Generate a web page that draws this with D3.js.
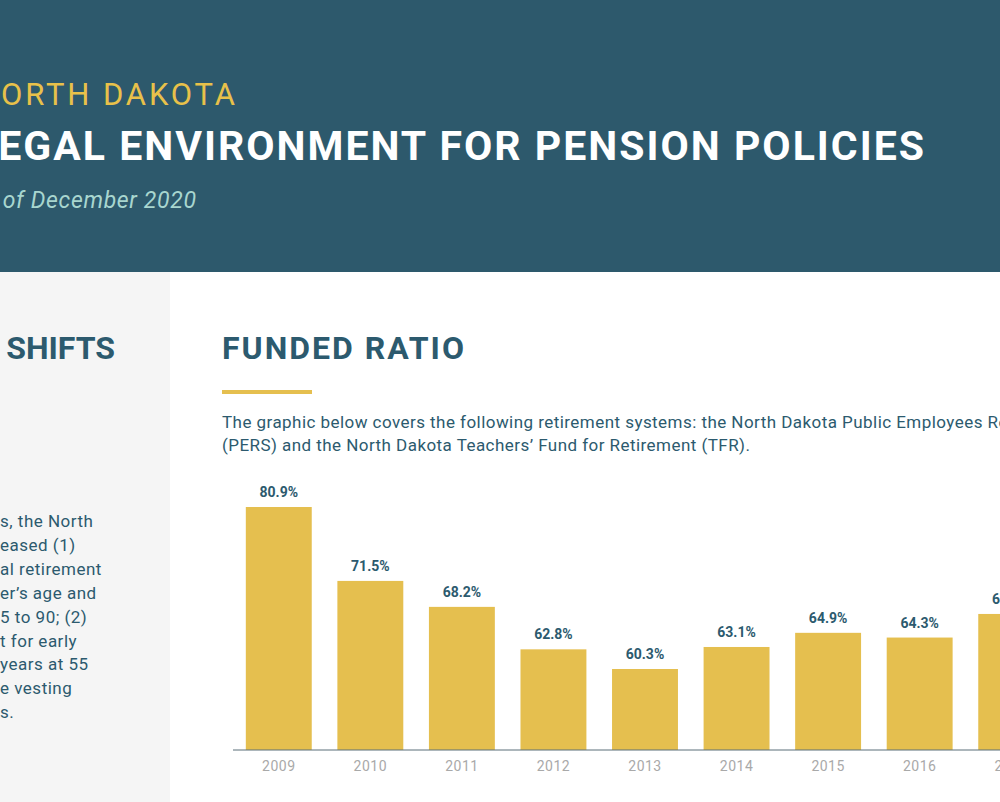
<!DOCTYPE html>
<html><head><meta charset="utf-8">
<script src="https://cdn.jsdelivr.net/npm/d3@7"></script>
<style>body{margin:0;overflow:hidden;background:#fff}svg{display:block;font-family:Roboto,"DejaVu Sans",sans-serif}</style>
</head><body><svg id="c" width="1000" height="802"></svg>
<script>
// chart data
var years = ['2009','2010','2011','2012','2013','2014','2015','2016','2017'];
var ratios = [80.9, 71.5, 68.2, 62.8, 60.3, 63.1, 64.9, 64.3, 67.3];
var sideLines = ['s, the North','eased (1)','al retirement','er\u2019s age and','5 to 90; (2)','t for early','years at 55','e vesting','s.'];

var svg = d3.select('#c');
var navy = '#2c5a6e', gold = '#e5bf4f';

// header band
svg.append('rect').attr('width',1000).attr('height',272).attr('fill','#2d596c');
svg.append('text').attr('x',-24).attr('y',105).attr('fill','#e8c14a').attr('font-size',31)
  .attr('textLength',259).text('NORTH DAKOTA');
svg.append('text').attr('x',-26).attr('y',160).attr('fill','#fff').attr('font-size',41).attr('font-weight',700)
  .attr('textLength',950).text('LEGAL ENVIRONMENT FOR PENSION POLICIES');
svg.append('text').attr('x',-31).attr('y',208).attr('fill','#a8d6cf').attr('font-size',23).attr('font-style','italic')
  .attr('textLength',227).text('As of December 2020');

// left panel
svg.append('rect').attr('y',272).attr('width',170).attr('height',530).attr('fill','#f5f5f5');
svg.append('text').attr('x',115).attr('y',359).attr('text-anchor','end').attr('fill',navy)
  .attr('font-size',32).attr('font-weight',700).text('SHIFTS');
svg.selectAll('text.side').data(sideLines).enter().append('text').attr('class','side')
  .attr('x',0).attr('y',(d,i)=>527+i*23.9).attr('fill',navy).attr('font-size',17)
  .attr('letter-spacing',0.5).text(d=>d);

// chart heading
svg.append('text').attr('x',222).attr('y',359).attr('fill',navy).attr('font-size',32).attr('font-weight',700)
  .attr('textLength',242).text('FUNDED RATIO');
svg.append('rect').attr('x',222).attr('y',390).attr('width',90).attr('height',4).attr('fill',gold);
svg.append('text').attr('x',222).attr('y',428).attr('fill',navy).attr('font-size',17).attr('letter-spacing',0.45)
  .text('The graphic below covers the following retirement systems: the North Dakota Public Employees Retirement System');
svg.append('text').attr('x',222).attr('y',451).attr('fill',navy).attr('font-size',17).attr('letter-spacing',0.45)
  .text('(PERS) and the North Dakota Teachers\u2019 Fund for Retirement (TFR).');

// bars
var x = d3.scaleBand().domain(years).range([233,1057]).paddingInner(0.28).paddingOuter(0.14);
var y = d3.scaleLinear().domain([50,80.9]).range([750,507]);
svg.selectAll('rect.bar').data(ratios).enter().append('rect').attr('class','bar')
  .attr('x',(d,i)=>x(years[i])).attr('width',x.bandwidth())
  .attr('y',d=>y(d)).attr('height',d=>750-y(d)).attr('fill',gold);
svg.selectAll('text.val').data(ratios).enter().append('text').attr('class','val')
  .attr('x',(d,i)=>x(years[i])+x.bandwidth()/2).attr('y',d=>y(d)-10).attr('text-anchor','middle')
  .attr('fill',navy).attr('font-size',14).attr('font-weight',700).text(d=>d.toFixed(1)+'%');

var ax = svg.append('g').attr('transform','translate(0,750)')
  .call(d3.axisBottom(x).tickSize(0).tickPadding(11));
ax.select('.domain').attr('stroke','#5b6f78').attr('d','M233,0H1000');
ax.selectAll('text').attr('fill','#a9a9a9').attr('font-size',14).attr('font-family','Roboto,sans-serif')
  .attr('letter-spacing',0.5);
</script></body></html>
